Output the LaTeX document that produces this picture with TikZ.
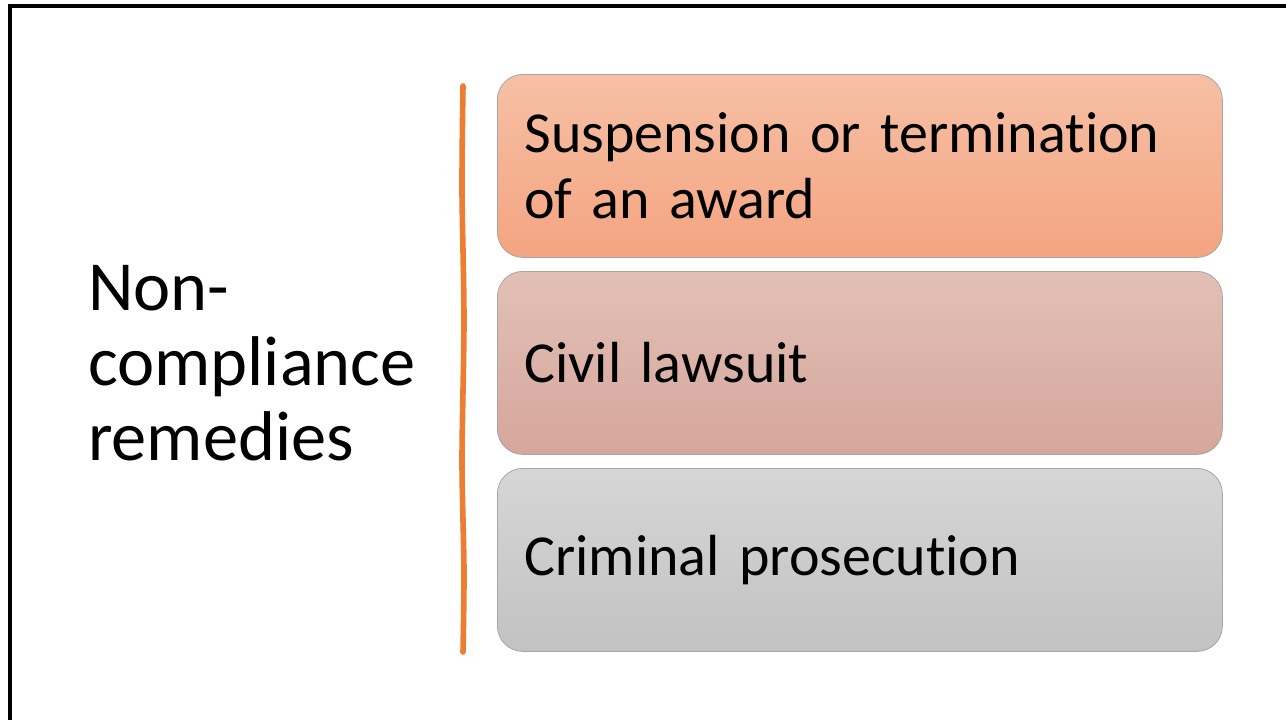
\documentclass[tikz,border=0pt]{standalone}
\usepackage{fontspec}
\setmainfont{Carlito}[Ligatures=NoCommon]
\usepackage{tikz}

\definecolor{lineorange}{RGB}{237,125,49}
\definecolor{topA}{RGB}{246,192,166}
\definecolor{botA}{RGB}{244,164,128}
\definecolor{topB}{RGB}{226,192,182}
\definecolor{botB}{RGB}{214,166,156}
\definecolor{topC}{RGB}{214,214,214}
\definecolor{botC}{RGB}{194,194,194}

\begin{document}
\begin{tikzpicture}[x=0.75pt,y=-0.75pt]
  \def\bw{725}
  \def\bh{183}

\tikzstyle{remedy}=[rectangle,rounded corners=19pt,draw=black!35,line width=0.6pt,
  minimum width=\bw*0.75pt,minimum height=\bh*0.75pt,text width=\bw*0.75pt-40.5pt,
  inner xsep=20.25pt,execute at begin node=\raggedright,font=\fontsize{43.5}{49}\selectfont,anchor=north west]
\useasboundingbox (0,0) rectangle (1286,719);
\clip (0,0) rectangle (1286,719);
\draw[line width=2.4pt] (10,6) rectangle (1310,740);
\node[align=left,anchor=west,inner sep=0pt,font=\fontsize{52.8}{56}\selectfont] (T) at (88,363) {Non-\\compliance\\remedies};
\draw[lineorange,line width=4.2pt,line cap=round] plot[smooth] coordinates {(463,86) (462,190) (464,320) (462,460) (464,570) (463,652)};
\node[remedy][top color=topA,bottom color=botA] (R1) at (497,74) {Suspension or termination of an award};
\node[remedy][top color=topB,bottom color=botB] (R2) at (497,271) {Civil lawsuit};
\node[remedy][top color=topC,bottom color=botC] (R3) at (497,468) {Criminal prosecution};
\end{tikzpicture}
\end{document}
